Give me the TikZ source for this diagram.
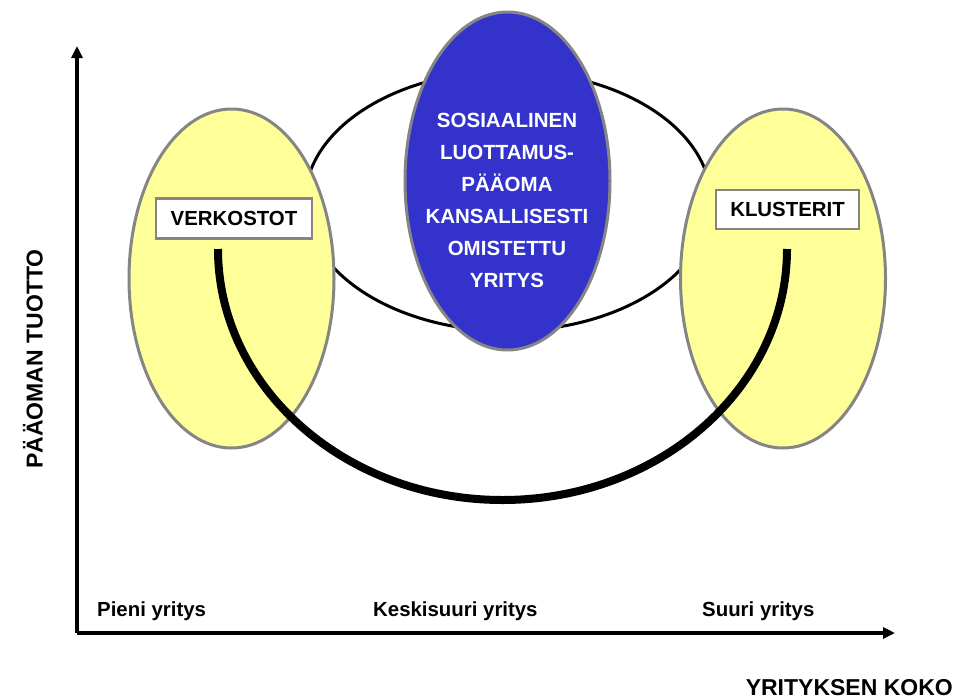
\documentclass[tikz,border=0pt]{standalone}
\usepackage{fontspec}
\setmainfont{Liberation Sans}
\usepackage{tikz}
\usetikzlibrary{shapes.geometric,arrows.meta}
\definecolor{paleyellow}{HTML}{FFFF99}
\definecolor{royalblue}{HTML}{3333CC}
\definecolor{rimgray}{HTML}{858585}

\begin{document}
\begin{tikzpicture}[x=1pt,y=-1pt]
  \tikzstyle{every node}+=[inner sep=0pt]
  \tikzstyle{blob}=[ellipse,draw=rimgray,line width=3pt,minimum width=205pt,minimum height=339pt]
  \tikzstyle{namebox}=[draw=rimgray,line width=2.5pt,fill=white,font=\fontsize{20.4}{24}\selectfont\bfseries]
  \tikzstyle{axisline}=[line width=3.5pt,-{Triangle[length=12pt,width=11pt]}]
  \tikzstyle{sizetext}=[anchor=base west,font=\fontsize{20.4}{24}\selectfont\bfseries]
  \tikzstyle{axistext}=[font=\fontsize{23}{26}\selectfont\bfseries]
  \useasboundingbox (0,0) rectangle (966,699);
  % ring behind the blobs
  \node[ellipse,draw=black,line width=3pt,fill=white,minimum width=406pt,minimum height=260pt] (ring) at (508,201) {};
  \node[blob,fill=paleyellow] (small) at (231.5,278.5) {};
  \node[blob,fill=paleyellow] (large) at (783,278.5) {};
  \node[blob,fill=royalblue,minimum height=338pt] (trust) at (507.5,181) {};
  \node[align=center,text=white,font=\fontsize{20.5}{32}\selectfont\bfseries] (trusttext) at (507,200)
    {SOSIAALINEN\\LUOTTAMUS-\\PÄÄOMA\\KANSALLISESTI\\OMISTETTU\\YRITYS};
  % U curve
  \coordinate (uleft) at (218,249);
  \draw[line width=8pt] (uleft) arc[start angle=180,end angle=360,x radius=284.5pt,y radius=251pt];
  \node[namebox,minimum width=156pt,minimum height=40pt] (verk) at (234,218.5) {VERKOSTOT};
  \node[namebox,minimum width=143pt,minimum height=39pt] (klus) at (787.5,209.5) {KLUSTERIT};
  % axes
  \coordinate (origin) at (77,633);
  \coordinate (ytip) at (77,46);
  \coordinate (xtip) at (895,633);
  \draw[axisline] (origin) -- (ytip);
  \draw[axisline] (origin) -- (xtip);
  \node[axistext,rotate=90] (ylabel) at (33,359) {PÄÄOMAN TUOTTO};
  \node[axistext,anchor=east] (xlabel) at (953,687.5) {YRITYKSEN KOKO};
  \node[sizetext] (pieni) at (97,616) {Pieni yritys};
  \node[sizetext] (keski) at (373,616) {Keskisuuri yritys};
  \node[sizetext] (suuri) at (702,616) {Suuri yritys};
\end{tikzpicture}
\end{document}
